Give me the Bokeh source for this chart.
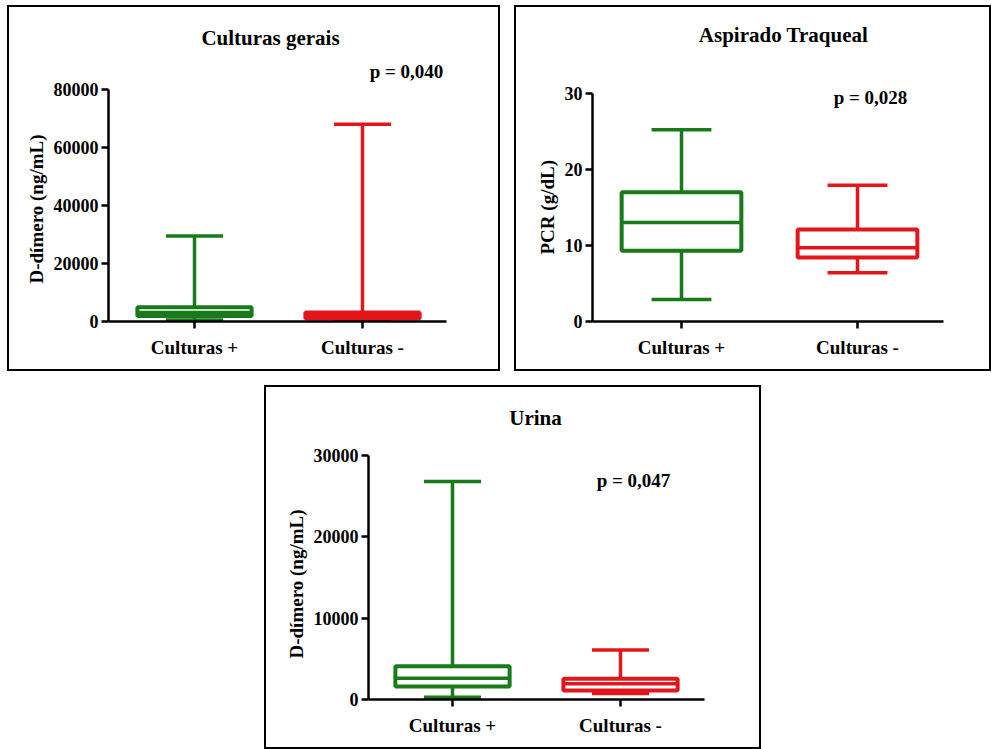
from bokeh.plotting import figure
from bokeh.layouts import column, row
from bokeh.models import Range1d, FixedTicker, Label, Title
from bokeh.embed import file_html
from bokeh.resources import INLINE

categories = ["Culturas +", "Culturas -"]
cat_x = [1, 2]
colors = ["#187a18", "#e3161b"]

# Panel 1: Culturas gerais - D-dímero (ng/mL)
gerais_min = [500, 300]
gerais_q1 = [1900, 1000]
gerais_med = [3100, 2100]
gerais_q3 = [4900, 3100]
gerais_max = [29500, 68000]
gerais_ticks = [0, 20000, 40000, 60000, 80000]

# Panel 2: Aspirado Traqueal - PCR (g/dL)
asp_min = [2.9, 6.4]
asp_q1 = [9.3, 8.4]
asp_med = [13.0, 9.7]
asp_q3 = [17.0, 12.1]
asp_max = [25.2, 17.9]
asp_ticks = [0, 10, 20, 30]

# Panel 3: Urina - D-dímero (ng/mL)
ur_min = [290, 750]
ur_q1 = [1600, 1100]
ur_med = [2600, 1950]
ur_q3 = [4100, 2550]
ur_max = [26800, 6100]
ur_ticks = [0, 10000, 20000, 30000]

titles = ["Culturas gerais", "Aspirado Traqueal", "Urina"]
ylabels = ["D-dímero (ng/mL)", "PCR (g/dL)", "D-dímero (ng/mL)"]
p_values = ["p = 0,040", "p = 0,028", "p = 0,047"]

FONT = "Liberation Serif"
BOX_W = 0.68
CAP_W = 0.34
LW = 3.5


def make_panel(title, ylabel, mins, q1, med, q3, maxs, ticks, pval, g):
    # g: page-pixel geometry of the panel
    cl, ct, w, h = g["canvas"]            # inner canvas left/top/width/height
    fl, fr = g["frame_x"]                  # frame left/right
    tick_px, fb = g["tick_y"]              # pixel of top tick, pixel of baseline
    ft = ct + 6                            # frame top (just under border)
    c0, c1 = g["cats"]                     # pixel centres of the two categories
    ppx = (c1 - c0) / (cat_x[1] - cat_x[0])
    ppy = (fb - tick_px) / ticks[-1]
    x0 = cat_x[0] - (c0 - fl) / ppx
    x1 = cat_x[1] + (fr - c1) / ppx
    y1 = (fb - ft) / ppy
    cw, ch = w + 4, h + 4                  # canvas size as rendered

    def to_data(px, py):
        return cat_x[0] + (px - c0) / ppx, (fb - py) / ppy

    p = figure(width=cw, height=ch, output_backend="svg",
               toolbar_location=None, tools="",
               x_range=Range1d(x0, x1), y_range=Range1d(0, y1),
               min_border_left=fl - cl, min_border_right=cl + cw - fr,
               min_border_top=ft - ct, min_border_bottom=ct + ch - fb)
    p.styles = {"border": "2px solid black", "box-sizing": "border-box"}
    p.outline_line_color = None
    p.xgrid.visible = False
    p.ygrid.visible = False

    xl = [x - BOX_W / 2 for x in cat_x]
    xr = [x + BOX_W / 2 for x in cat_x]
    kl = [x - CAP_W / 2 for x in cat_x]
    kr = [x + CAP_W / 2 for x in cat_x]

    # whiskers
    p.segment(x0=cat_x, x1=cat_x, y0=q3, y1=maxs, line_color=colors, line_width=LW)
    p.segment(x0=cat_x, x1=cat_x, y0=q1, y1=mins, line_color=colors, line_width=LW)
    p.segment(x0=kl, x1=kr, y0=maxs, y1=maxs, line_color=colors, line_width=LW)
    p.segment(x0=kl, x1=kr, y0=mins, y1=mins, line_color=colors, line_width=LW)
    # boxes
    p.vbar(x=cat_x, width=BOX_W, bottom=q1, top=q3, fill_color="white",
           line_color=colors, line_width=LW + 0.5)
    # medians
    p.segment(x0=xl, x1=xr, y0=med, y1=med, line_color=colors, line_width=LW)

    for ax in (p.xaxis[0], p.yaxis[0]):
        ax.axis_line_width = 2.5
        ax.axis_line_color = "black"
        ax.major_tick_line_width = 2.5
        ax.major_tick_out = 7
        ax.major_tick_in = 0
        ax.minor_tick_line_color = None
        ax.major_label_text_font = FONT
        ax.major_label_text_font_style = "bold"
        ax.major_label_text_color = "black"

    p.xaxis.ticker = FixedTicker(ticks=cat_x)
    p.xaxis.major_label_overrides = {x: c for x, c in zip(cat_x, categories)}
    p.xaxis.major_label_standoff = 8
    p.xaxis.major_label_text_font_size = "19px"

    p.yaxis.ticker = FixedTicker(ticks=ticks)
    p.yaxis.bounds = (ticks[0], ticks[-1])
    p.yaxis.major_label_standoff = 3
    p.yaxis.major_label_text_font_size = "18px"

    # y axis title, aligned on the drawn axis span
    p.add_layout(Title(text=ylabel, align="left", offset=fb - g["ylab_bottom"],
                       text_font=FONT, text_font_style="bold",
                       text_font_size="19px", text_color="black",
                       standoff=8), "left")

    tx, ty = to_data(*g["title_at"])
    p.add_layout(Label(x=tx, y=ty, text=title, text_font=FONT,
                       text_font_style="bold", text_font_size="21px",
                       text_color="black",
                       text_align="center", text_baseline="middle"))
    vx, vy = to_data(*g["p_at"])
    p.add_layout(Label(x=vx, y=vy, text=pval, text_font=FONT,
                       text_font_style="bold", text_font_size="19px",
                       text_color="black",
                       text_align="center", text_baseline="middle"))
    return p


geom1 = dict(canvas=(9, 7, 489, 362), frame_x=(108, 446), tick_y=(89, 321),
             cats=(194, 362), title_at=(270, 37), p_at=(406, 71), ylab_bottom=283)
geom2 = dict(canvas=(516, 7, 473, 362), frame_x=(592, 943), tick_y=(93, 322),
             cats=(681, 857), title_at=(783, 35), p_at=(870, 97), ylab_bottom=255)
geom3 = dict(canvas=(266, 387, 493, 360), frame_x=(368, 704), tick_y=(455, 699),
             cats=(452, 620), title_at=(535, 417), p_at=(633, 480), ylab_bottom=658)

p1 = make_panel(titles[0], ylabels[0], gerais_min, gerais_q1, gerais_med,
                gerais_q3, gerais_max, gerais_ticks, p_values[0], geom1)
p2 = make_panel(titles[1], ylabels[1], asp_min, asp_q1, asp_med, asp_q3,
                asp_max, asp_ticks, p_values[1], geom2)
p3 = make_panel(titles[2], ylabels[2], ur_min, ur_q1, ur_med, ur_q3, ur_max,
                ur_ticks, p_values[2], geom3)

p1.margin = (5, 0, 0, 7)
p2.margin = (5, 0, 0, 14)
p3.margin = (14, 0, 0, 264)

layout = column(row(p1, p2), p3)

open("out.html", "w").write(file_html(layout, INLINE))
